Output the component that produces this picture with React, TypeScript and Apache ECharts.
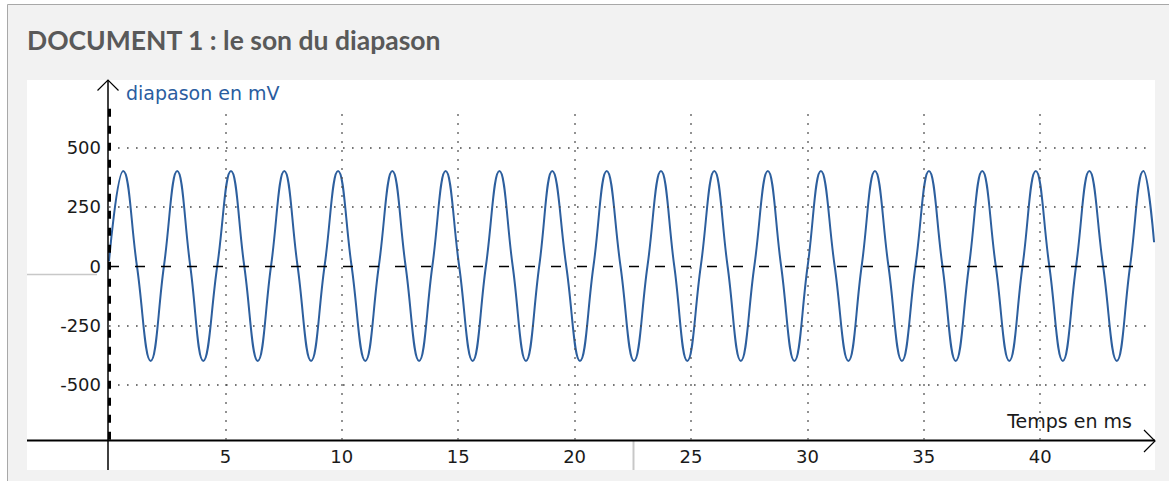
import React, { useEffect, useRef } from "react";
import * as echarts from "echarts";

const waveTimes = [
  0, 0.61, 1.2, 1.79, 2.36, 2.93, 3.49, 4.05, 4.65, 5.24, 5.81, 6.39, 6.96, 7.53, 8.1, 8.68,
  9.26, 9.84, 10.42, 11.01, 11.59, 12.17, 12.74, 13.32, 13.89, 14.46, 15.04, 15.62, 16.19,
  16.77, 17.34, 17.91, 18.48, 19.04, 19.64, 20.23, 20.81, 21.38, 21.97, 22.55, 23.13, 23.71,
  24.28, 24.84, 25.42, 26.0, 26.57, 27.14, 27.72, 28.3, 28.87, 29.44, 30.01, 30.58, 31.17,
  31.76, 32.33, 32.9, 33.48, 34.06, 34.64, 35.22, 35.8, 36.37, 36.94, 37.51, 38.09, 38.67,
  39.24, 39.81, 40.39, 40.97, 41.54, 42.11, 42.7, 43.29, 43.86, 44.43, 44.89,
];
const waveValues = [
  20, 400, 0, -400, 0, 400, 0, -400, 0, 400, 0, -400, 0, 400, 0, -400,
  0, 400, 0, -400, 0, 400, 0, -400, 0, 400, 0, -400, 0,
  400, 0, -400, 0, 400, 0, -400, 0, 400, 0, -400, 0, 400,
  0, -400, 0, 400, 0, -400, 0, 400, 0, -400, 0, 400, 0,
  -400, 0, 400, 0, -400, 0, 400, 0, -400, 0, 400, 0, -400,
  0, 400, 0, -400, 0, 400, 0, -400, 0, 400, 100,
];

// Axis ticks
const xTicks = [5, 10, 15, 20, 25, 30, 35, 40];
const yGridValues = [-500, -250, 250, 500];

const TITLE = "DOCUMENT 1 : le son du diapason";
const Y_NAME = "diapason en mV";
const X_NAME = "Temps en ms";

const FONT = "DejaVu Sans";
const X_MAX = 44.93;
const GRID_Y_TOP = 658;
const GRID_Y_BOTTOM = -733;
const GRID_X_END = 44.59;

export default function App() {
  const ref = useRef<HTMLDivElement>(null);

  useEffect(() => {
    if (!ref.current) return;
    const chart = echarts.init(ref.current, null, { renderer: "svg" });

    const dotted = { color: "#4a4a4a", width: 1.6, type: [1.6, 7.4] as any };

    const gridLines: any[] = [];
    xTicks.forEach((t) => {
      gridLines.push([
        { coord: [t, GRID_Y_BOTTOM], lineStyle: dotted },
        { coord: [t, GRID_Y_TOP] },
      ]);
    });
    yGridValues.forEach((v) => {
      gridLines.push([
        { coord: [0, v], lineStyle: dotted },
        { coord: [GRID_X_END, v] },
      ]);
    });
    gridLines.push([
      { coord: [0, 0], lineStyle: { color: "#000", width: 1.3, type: [10, 16] } },
      { coord: [GRID_X_END, 0] },
    ]);
    gridLines.push([
      { coord: [0, GRID_Y_BOTTOM], lineStyle: { color: "#000", width: 3, type: [8, 9] } },
      { coord: [0, 680] },
    ]);

    const option: any = {
      animation: false,
      backgroundColor: "#ffffff",
      title: {
        text: TITLE,
        left: 27,
        top: 26,
        padding: 0,
        textStyle: {
          fontFamily: "Lato",
          fontWeight: "bold",
          fontSize: 26.5,
          color: "#595959",
        },
      },
      grid: { left: 109, right: 14, top: 88.1, bottom: 37.1 },
      xAxis: {
        type: "value",
        min: 0,
        max: X_MAX,
        interval: 5,
        axisLine: { show: false },
        axisTick: { show: false },
        splitLine: { show: false },
        axisLabel: {
          showMinLabel: false,
          showMaxLabel: false,
          margin: 4,
          fontFamily: FONT,
          fontSize: 18,
          color: "#1a1a1a",
        },
      },
      yAxis: {
        type: "value",
        min: -750,
        max: 750,
        interval: 250,
        axisLine: { show: false },
        axisTick: { show: false },
        splitLine: { show: false },
        axisLabel: {
          showMinLabel: false,
          showMaxLabel: false,
          margin: 8,
          fontFamily: FONT,
          fontSize: 18,
          color: "#1a1a1a",
        },
      },
      graphic: [
        {
          type: "rect",
          z: -30,
          shape: { x: 7.5, y: 4.5, width: 1200, height: 500 },
          style: { fill: "#f2f2f2", stroke: "#a8a8a8", lineWidth: 1 },
        },
        {
          type: "rect",
          z: -20,
          shape: { x: 27, y: 80, width: 1128, height: 390 },
          style: { fill: "#ffffff" },
        },
        {
          type: "line",
          z: 5,
          shape: { x1: 27, y1: 274.5, x2: 97, y2: 274.5 },
          style: { stroke: "#c8c8c8", lineWidth: 1.5 },
        },
        {
          type: "line",
          z: 5,
          shape: { x1: 633.5, y1: 441, x2: 633.5, y2: 470 },
          style: { stroke: "#c8c8c8", lineWidth: 2 },
        },
        {
          type: "line",
          z: 5,
          shape: { x1: 108, y1: 80, x2: 108, y2: 470 },
          style: { stroke: "#000", lineWidth: 1.5 },
        },
        {
          type: "polyline",
          z: 5,
          shape: { points: [[97.5, 90.5], [108, 80], [118.5, 90.5]] },
          style: { stroke: "#000", lineWidth: 1.2, fill: "none" },
        },
        {
          type: "line",
          z: 5,
          shape: { x1: 27, y1: 440.5, x2: 1155, y2: 440.5 },
          style: { stroke: "#000", lineWidth: 2 },
        },
        {
          type: "polyline",
          z: 5,
          shape: { points: [[1144, 430], [1155, 441], [1144, 452]] },
          style: { stroke: "#000", lineWidth: 1.2, fill: "none" },
        },
        {
          type: "text",
          z: 5,
          style: {
            x: 126,
            y: 93,
            text: Y_NAME,
            fill: "#2a5d9f",
            font: `19px "${FONT}"`,
            verticalAlign: "middle",
            align: "left",
          },
        },
        {
          type: "text",
          z: 5,
          style: {
            x: 1132,
            y: 420.5,
            text: X_NAME,
            fill: "#1a1a1a",
            font: `19px "${FONT}"`,
            verticalAlign: "middle",
            align: "right",
          },
        },
      ],
      series: [
        {
          type: "line",
          data: [],
          z: 1,
          silent: true,
          markLine: {
            silent: true,
            symbol: ["none", "none"],
            label: { show: false },
            animation: false,
            data: gridLines,
          },
        },
        {
          type: "line",
          z: 3,
          data: waveTimes.map((t, i) => [t, waveValues[i]]),
          smooth: 0.45,
          showSymbol: false,
          lineStyle: { color: "#2d5f9e", width: 2 },
        },
      ],
    };

    chart.setOption(option);
    return () => chart.dispose();
  }, []);

  return (
    <div
      ref={ref}
      style={{ position: "fixed", left: 0, top: 0, width: 1169, height: 481 }}
    />
  );
}
